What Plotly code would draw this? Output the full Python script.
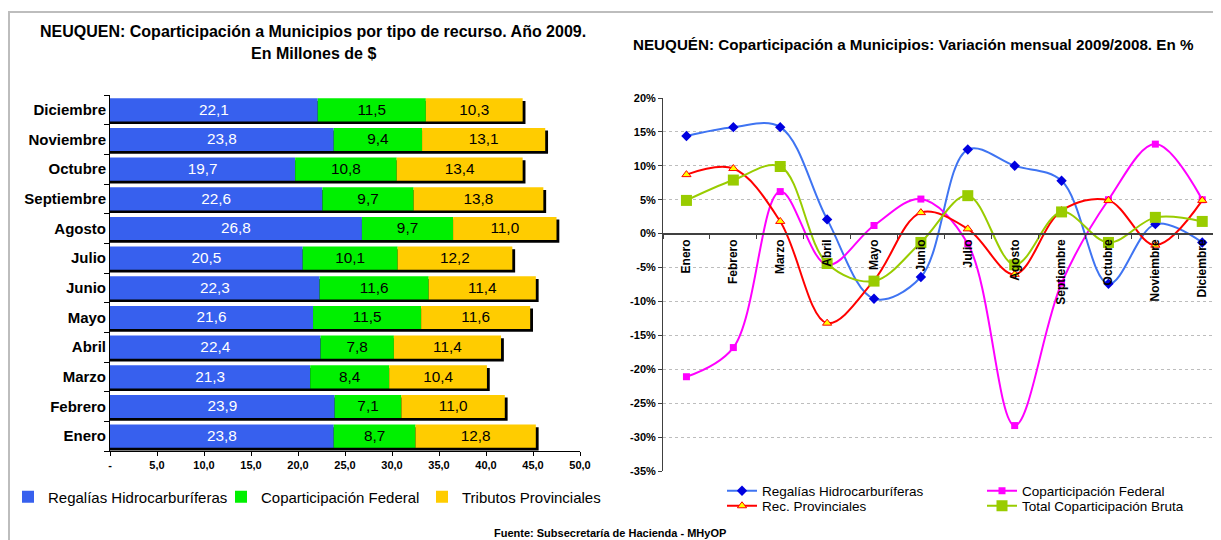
import plotly.graph_objects as go

meses = ["Enero", "Febrero", "Marzo", "Abril", "Mayo", "Junio", "Julio",
         "Agosto", "Septiembre", "Octubre", "Noviembre", "Diciembre"]

# millones de $ (2009)
regalias = [23.8, 23.9, 21.3, 22.4, 21.6, 22.3, 20.5, 26.8, 22.6, 19.7, 23.8, 22.1]
copart_fed = [8.7, 7.1, 8.4, 7.8, 11.5, 11.6, 10.1, 9.7, 9.7, 10.8, 9.4, 11.5]
tributos = [12.8, 11.0, 10.4, 11.4, 11.6, 11.4, 12.2, 11.0, 13.8, 13.4, 13.1, 10.3]

# variacion mensual 2009/2008 en %
var_regalias = [14.4, 15.7, 15.7, 2.1, -9.6, -6.4, 12.4, 10.0, 7.8, -7.4, 1.4, -1.3]
var_copart = [-21.1, -16.8, 6.2, -4.6, 1.2, 5.1, -1.5, -28.3, -7.3, 5.0, 13.2, 5.0]
var_rec_prov = [8.7, 9.6, 1.8, -13.2, -6.9, 3.1, 0.7, -6.0, 3.4, 4.9, -1.7, 4.9]
var_total = [4.9, 7.9, 9.9, -4.4, -7.0, -1.3, 5.6, -4.6, 3.2, -1.3, 2.4, 1.8]

x_ticks = [0, 5, 10, 15, 20, 25, 30, 35, 40, 45, 50]
x_ticktext = ["-", "5,0", "10,0", "15,0", "20,0", "25,0", "30,0", "35,0", "40,0", "45,0", "50,0"]
y_ticks = [20, 15, 10, 5, 0, -5, -10, -15, -20, -25, -30, -35]

# the page body has an 8px margin, so the figure is 8px smaller than the window
OFF = 8
W, H = 1221 - OFF, 540 - OFF
FONT = "Liberation Sans"

def px_x(p):
    # page pixel -> paper fraction
    return (p - OFF) / W

def px_y(p):
    return (H - (p - OFF)) / H

fig = go.Figure()

# ---------------- left: stacked bars ----------------
totales = [a + b + c for a, b, c in zip(regalias, copart_fed, tributos)]
base_trib = [a + b for a, b in zip(regalias, copart_fed)]
bw = 0.78

# sombra negra
fig.add_trace(go.Bar(y=meses, x=[t + 0.3 for t in totales], base=0, orientation="h",
                     width=bw, offset=-bw / 2 - 0.09, marker=dict(color="black", line_width=0),
                     showlegend=False, hoverinfo="skip", xaxis="x", yaxis="y"))
fig.add_trace(go.Bar(y=meses, x=regalias, base=0, orientation="h", name="Regalías Hidrocarburíferas",
                     width=bw, offset=-bw / 2, marker=dict(color="#3760EE", line_width=0),
                     texttemplate="%{x:.1f}", textposition="inside", insidetextanchor="middle",
                     textfont=dict(color="white", size=17, family=FONT), legend="legend",
                     xaxis="x", yaxis="y"))
fig.add_trace(go.Bar(y=meses, x=copart_fed, base=regalias, orientation="h", name="Coparticipación Federal",
                     width=bw, offset=-bw / 2, marker=dict(color="#00F000", line_width=0),
                     texttemplate="%{x:.1f}", textposition="inside", insidetextanchor="middle",
                     textfont=dict(color="black", size=17, family=FONT), legend="legend2",
                     xaxis="x", yaxis="y"))
fig.add_trace(go.Bar(y=meses, x=tributos, base=base_trib, orientation="h", name="Tributos Provinciales",
                     width=bw, offset=-bw / 2, marker=dict(color="#FFCC00", line_width=0),
                     texttemplate="%{x:.1f}", textposition="inside", insidetextanchor="middle",
                     textfont=dict(color="black", size=17, family=FONT), legend="legend3",
                     xaxis="x", yaxis="y"))

# ---------------- right: lines ----------------
fig.add_trace(go.Scatter(x=meses, y=var_regalias, name="Regalías Hidrocarburíferas", mode="lines+markers",
                         line=dict(color="#3F74F2", width=2, shape="spline"),
                         marker=dict(symbol="diamond", size=8, color="#0000E0"),
                         legend="legend4", xaxis="x2", yaxis="y2"))
fig.add_trace(go.Scatter(x=meses, y=var_copart, name="Coparticipación Federal", mode="lines+markers",
                         line=dict(color="#FF00FF", width=2, shape="spline"),
                         marker=dict(symbol="square", size=7, color="#FF00FF"),
                         legend="legend5", xaxis="x2", yaxis="y2"))
fig.add_trace(go.Scatter(x=meses, y=var_rec_prov, name="Rec. Provinciales", mode="lines+markers",
                         line=dict(color="#FF0000", width=2, shape="spline"),
                         marker=dict(symbol="triangle-up", size=8, color="#FFFF00",
                                     line=dict(color="#FF0000", width=1)),
                         legend="legend6", xaxis="x2", yaxis="y2"))
fig.add_trace(go.Scatter(x=meses, y=var_total, name="Total Coparticipación Bruta", mode="lines+markers",
                         line=dict(color="#99CC00", width=2, shape="spline"),
                         marker=dict(symbol="square", size=11, color="#99CC00"),
                         legend="legend7", xaxis="x2", yaxis="y2"))

y2_dom = [px_y(471), px_y(98)]
y2_range = [-35, 20]
zero_pos = y2_dom[0] + (0 - y2_range[0]) / (y2_range[1] - y2_range[0]) * (y2_dom[1] - y2_dom[0])

tick_font = dict(family=FONT, size=11, color="black", weight="bold")

def leg(xp, yp, size):
    return dict(orientation="h", x=px_x(xp), y=px_y(yp), xanchor="left", yanchor="middle",
                font=dict(family=FONT, size=size, color="black"), bgcolor="rgba(0,0,0,0)")

fig.update_layout(
    width=W, height=H,
    margin=dict(l=0, r=0, t=0, b=0),
    paper_bgcolor="white", plot_bgcolor="white",
    separators=",.",
    barmode="overlay",
    font=dict(family=FONT, color="black"),
    xaxis=dict(domain=[px_x(110), px_x(580)], range=[0, 50], tickvals=x_ticks, ticktext=x_ticktext,
               showgrid=False, zeroline=False, showline=True, linecolor="black", linewidth=1,
               ticks="outside", ticklen=4, tickcolor="black", tickfont=tick_font, anchor="y",
               automargin=False),
    yaxis=dict(domain=[px_y(451), px_y(95)], categoryorder="array", categoryarray=meses,
               range=[-0.5, 11.5], showgrid=False, zeroline=False, showline=True, linecolor="black",
               linewidth=1, ticks="outside", ticklen=5, tickson="boundaries", tickcolor="black",
               tickfont=dict(family=FONT, size=15, color="black", weight="bold"), anchor="x",
               automargin=False),
    xaxis2=dict(domain=[px_x(663), 1.0], range=[-0.5, 11.4], anchor="free", position=zero_pos,
                showgrid=False, zeroline=False, showline=True, linecolor="#404040", linewidth=2,
                ticks="outside", ticklen=4, tickson="boundaries", tickcolor="#404040", tickangle=-90,
                tickfont=dict(family=FONT, size=12, color="black", weight="bold"), automargin=False),
    yaxis2=dict(domain=y2_dom, range=y2_range, anchor="x2", tickvals=y_ticks,
                ticktext=[f"{v}%" for v in y_ticks], showgrid=True, gridcolor="#BDBDBD",
                griddash="3px,3px", gridwidth=1, zeroline=False, showline=True, linecolor="#404040",
                linewidth=1, ticks="outside", ticklen=4, tickcolor="#404040", tickfont=tick_font,
                automargin=False),
    legend=leg(8, 497, 15),
    legend2=leg(221, 497, 15),
    legend3=leg(422, 497, 15),
    legend4=leg(722, 491, 13.5),
    legend5=leg(982, 491, 13.5),
    legend6=leg(722, 506, 13.5),
    legend7=leg(982, 506, 13.5),
    showlegend=True,
)

fig.add_annotation(text="<b>NEUQUEN: Coparticipación a Municipios por tipo de recurso. Año 2009.</b>",
                   x=px_x(313), y=px_y(31), xref="paper", yref="paper", showarrow=False,
                   xanchor="center", yanchor="middle", font=dict(family=FONT, size=16, color="black"))
fig.add_annotation(text="<b>En Millones de $</b>",
                   x=px_x(313), y=px_y(53), xref="paper", yref="paper", showarrow=False,
                   xanchor="center", yanchor="middle", font=dict(family=FONT, size=16, color="black"))
fig.add_annotation(text="<b>NEUQUÉN: Coparticipación a Municipios: Variación mensual 2009/2008. En %</b>",
                   x=px_x(631), y=px_y(44), xref="paper", yref="paper", showarrow=False,
                   xanchor="left", yanchor="middle", font=dict(family=FONT, size=15.2, color="black"))
fig.add_annotation(text="<b>Fuente: Subsecretaría de Hacienda - MHyOP</b>",
                   x=px_x(610), y=px_y(525), xref="paper", yref="paper", showarrow=False,
                   xanchor="center", yanchor="top", font=dict(family=FONT, size=11, color="black"))

# marco gris
fig.add_shape(type="rect", xref="paper", yref="paper", x0=px_x(9), x1=1.05, y0=-0.05, y1=px_y(12),
              line=dict(color="#BDBDBD", width=2), layer="below")

fig.write_html("out.html")
